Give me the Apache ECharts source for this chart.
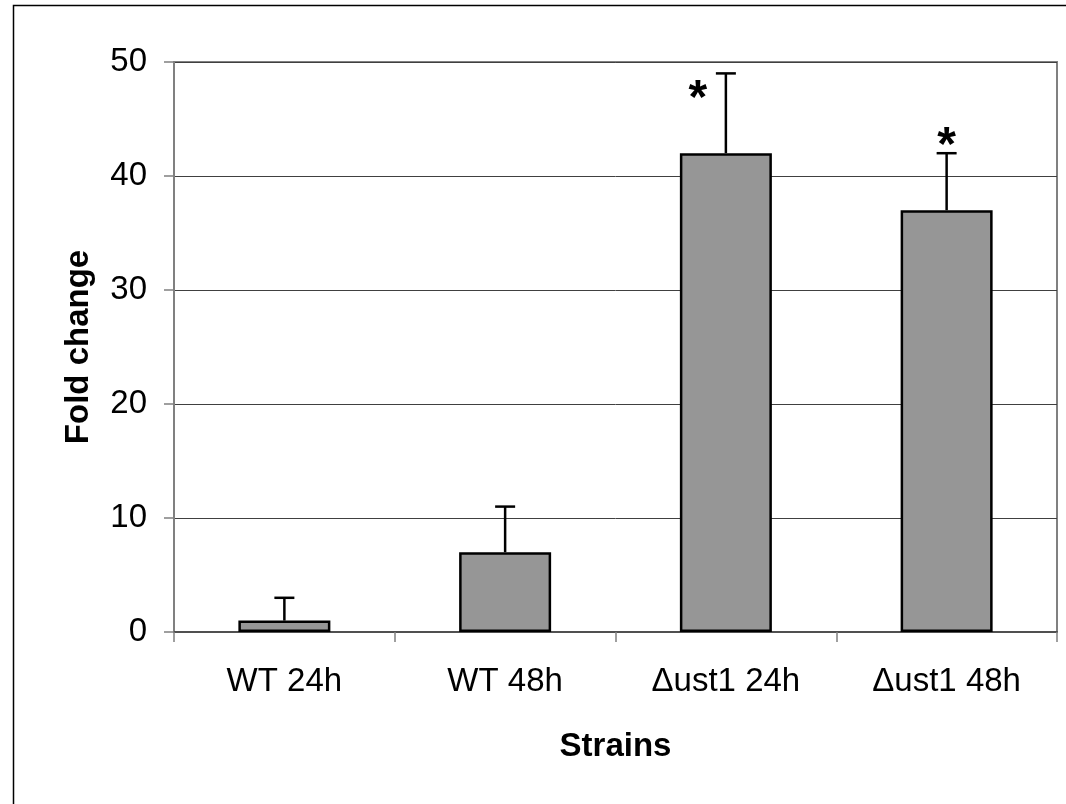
<!DOCTYPE html>
<html>
<head>
<meta charset="utf-8">
<script src="https://cdn.jsdelivr.net/npm/echarts@6/dist/echarts.min.js"></script>
<style>html,body{margin:0;padding:0;background:#fff}#c{width:1066px;height:804px}</style>
</head>
<body>
<div id="c"></div>
<script>
var categories = ['WT 24h', 'WT 48h', '\u0394ust1 24h', '\u0394ust1 48h'];
var foldChange = [1, 7, 42, 37];
var errorUpper = [3, 11, 49, 42];
var significance = ['', '', '*', '*'];
var yTicks = [0, 10, 20, 30, 40, 50];

var chart = echarts.init(document.getElementById('c'));
var FONT = 'Liberation Sans, Arial, sans-serif';

var errData = categories.map(function (c, i) { return [i, foldChange[i], errorUpper[i]]; });
var starData = categories.map(function (c, i) { return [i, errorUpper[i], significance[i]]; });

chart.setOption({
  animation: false,
  graphic: [{
    type: 'rect', silent: true, z: 0,
    shape: { x: 13.5, y: 5.5, width: 1200, height: 1000 },
    style: { fill: 'none', stroke: '#000', lineWidth: 1.5 }
  }],
  grid: { left: 174, right: 9, top: 62, bottom: 172, show: true, borderColor: '#808080', borderWidth: 2 },
  xAxis: {
    type: 'category',
    data: categories,
    name: 'Strains',
    nameLocation: 'middle',
    nameGap: 98,
    nameTextStyle: { fontFamily: FONT, fontSize: 33, fontWeight: 'bold', color: '#000' },
    axisLine: { lineStyle: { color: '#505050', width: 2 } },
    axisTick: { show: true, length: 10, lineStyle: { color: '#808080', width: 1.5 } },
    axisLabel: { fontFamily: FONT, fontSize: 33, color: '#000', margin: 33 }
  },
  yAxis: {
    type: 'value',
    min: 0, max: 50, interval: 10,
    name: 'Fold change',
    nameLocation: 'middle',
    nameGap: 79,
    nameTextStyle: { fontFamily: FONT, fontSize: 33, fontWeight: 'bold', color: '#000' },
    axisLine: { show: true, lineStyle: { color: '#808080', width: 2 } },
    axisTick: { show: true, length: 10, lineStyle: { color: '#808080', width: 1.5 } },
    axisLabel: {
      fontFamily: FONT, fontSize: 33, color: '#000', margin: 27,
      formatter: function (v) { return yTicks.indexOf(v) >= 0 ? String(v) : ''; }
    },
    splitLine: { show: true, lineStyle: { color: '#404040', width: 1 } }
  },
  series: [{
    type: 'bar',
    data: foldChange,
    barWidth: 92,
    itemStyle: { color: '#969696', borderColor: '#000', borderWidth: 2.5 },
    z: 3
  }, {
    type: 'custom',
    data: errData,
    z: 2,
    renderItem: function (params, api) {
      var base = api.coord([api.value(0), api.value(1)]);
      var top = api.coord([api.value(0), api.value(2)]);
      var hw = 10;
      return {
        type: 'group',
        children: [
          { type: 'line', shape: { x1: base[0], y1: base[1], x2: top[0], y2: top[1] }, style: { stroke: '#000', lineWidth: 2.5 } },
          { type: 'line', shape: { x1: top[0] - hw, y1: top[1], x2: top[0] + hw, y2: top[1] }, style: { stroke: '#000', lineWidth: 2.5 } }
        ]
      };
    }
  }, {
    type: 'custom',
    data: starData,
    z: 4,
    renderItem: function (params, api) {
      var idx = params.dataIndex;
      var label = significance[idx];
      if (!label) return null;
      var p = api.coord([api.value(0), api.value(1)]);
      // first starred bar: star sits beside the error bar; second: above the cap
      var x = idx === 2 ? p[0] - 28 : p[0];
      var y = idx === 2 ? p[1] + 15 : p[1] - 17;
      return {
        type: 'text',
        style: {
          text: label, x: x, y: y + 11,
          align: 'center', verticalAlign: 'middle',
          font: 'bold 48px ' + FONT, fill: '#000'
        }
      };
    }
  }]
});
</script>
</body>
</html>
